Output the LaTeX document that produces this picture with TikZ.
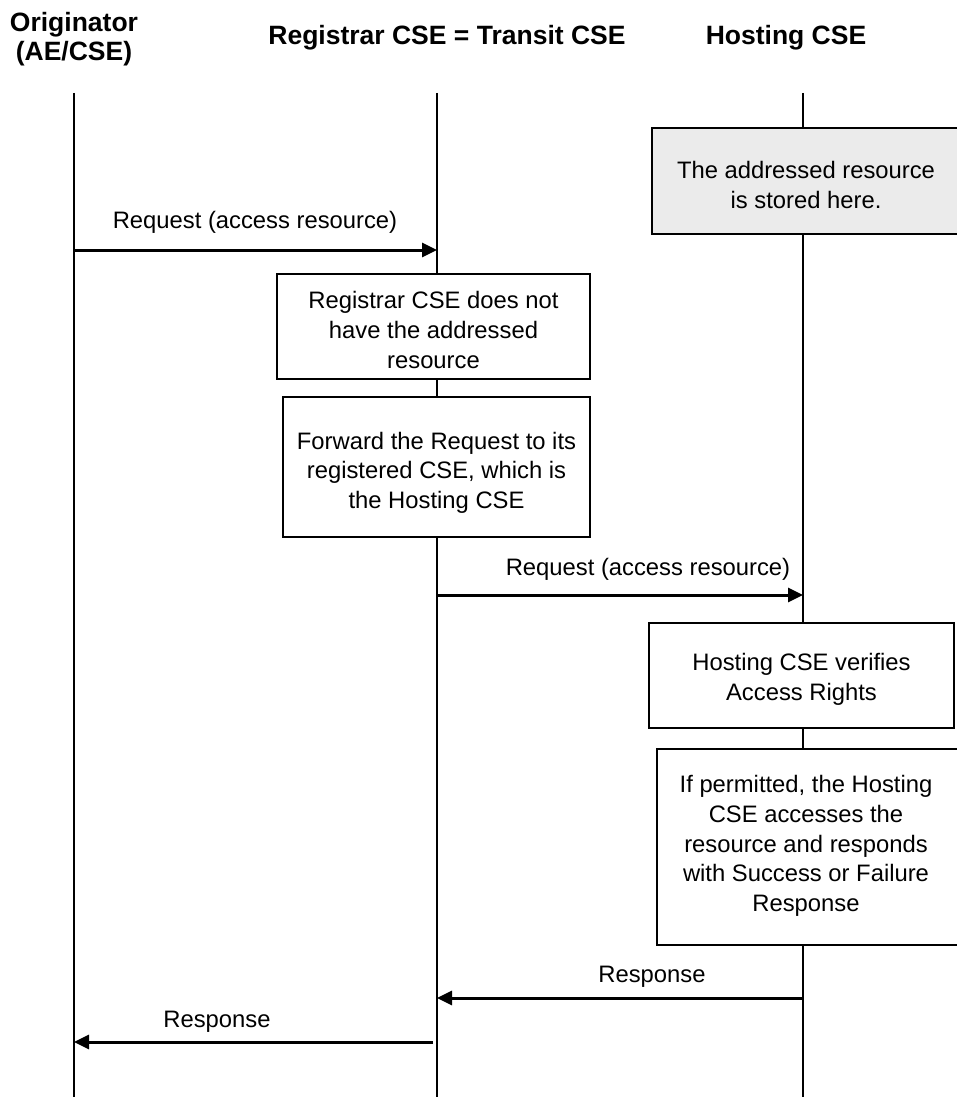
\documentclass[tikz,border=0pt]{standalone}
\usepackage{fontspec}
\setmainfont{Liberation Sans}
\usetikzlibrary{arrows.meta}
\newcommand{\bodyfont}{\fontsize{23.8}{29.6}\selectfont}
\newcommand{\hdrfont}{\fontsize{26.5}{29}\selectfont\bfseries}
\begin{document}
\begin{tikzpicture}[x=1pt,y=-1pt,
  life/.style={line width=2pt},
  msg/.style={line width=3pt,-{Triangle[length=15pt,width=14pt]}},
  box/.style={draw,line width=2pt,fill=white,inner sep=0pt},
  boxtext/.style={align=center,inner sep=0pt,font=\bodyfont},
  lbl/.style={font=\bodyfont,inner sep=0pt},
  hdr/.style={font=\hdrfont,align=center,inner sep=0pt}]
\useasboundingbox[fill=white] (0,0) rectangle (956,1097);
% headers
\node[hdr] (hO) at (74,39) {Originator\\(AE/CSE)};
\node[hdr] (hR) at (447,38) {Registrar CSE = Transit CSE};
\node[hdr] (hH) at (786,38) {Hosting CSE};
% lifelines
\coordinate (oT) at (74,93);   \coordinate (oB) at (74,1097);
\coordinate (rT) at (437,93);  \coordinate (rB) at (437,1097);
\coordinate (hT) at (803,93);  \coordinate (hB) at (803,1097);
\draw[life] (oT) -- (oB);
\draw[life] (rT) -- (rB);
\draw[life] (hT) -- (hB);
% boxes
\node[box,fill=black!8,minimum width=308,minimum height=106] (store) at (806,181) {};
\node[boxtext] (storeT) at (806,185) {The addressed resource\\is stored here.};
\node[box,minimum width=313,minimum height=105] (nohave) at (433.5,326.5) {};
\node[boxtext] (nohaveT) at (433.5,330) {Registrar CSE does not\\have the addressed\\resource};
\node[box,minimum width=307,minimum height=140] (fwd) at (436.5,467) {};
\node[boxtext] (fwdT) at (436.5,472.5) {Forward the Request to its\\registered CSE, which is\\the Hosting CSE};
\node[box,minimum width=305,minimum height=105] (verify) at (801.5,675.5) {};
\node[boxtext] (verifyT) at (801.5,679.5) {Hosting CSE verifies\\Access Rights};
\node[box,minimum width=304,minimum height=196] (permit) at (809,847) {};
\node[boxtext] (permitT) at (806,846) {If permitted, the Hosting\\CSE accesses the\\resource and responds\\with Success or Failure\\Response};
% message end points
\coordinate (o1) at (74,250);  \coordinate (r1) at (437,250);
\coordinate (r2) at (437,595); \coordinate (h2) at (803,595);
\coordinate (h3) at (802,998); \coordinate (r3) at (437,998);
\coordinate (r4) at (433,1042);\coordinate (o4) at (74,1042);
\draw[msg] (o1) -- (r1);
\draw[msg] (r2) -- (h2);
\draw[msg] (h3) -- (r3);
\draw[msg] (r4) -- (o4);
% labels
\node[lbl] (l1) at (255,222) {Request (access resource)};
\node[lbl] (l2) at (648,569) {Request (access resource)};
\node[lbl] (l3) at (652,977) {Response};
\node[lbl] (l4) at (217,1022) {Response};
\end{tikzpicture}
\end{document}
